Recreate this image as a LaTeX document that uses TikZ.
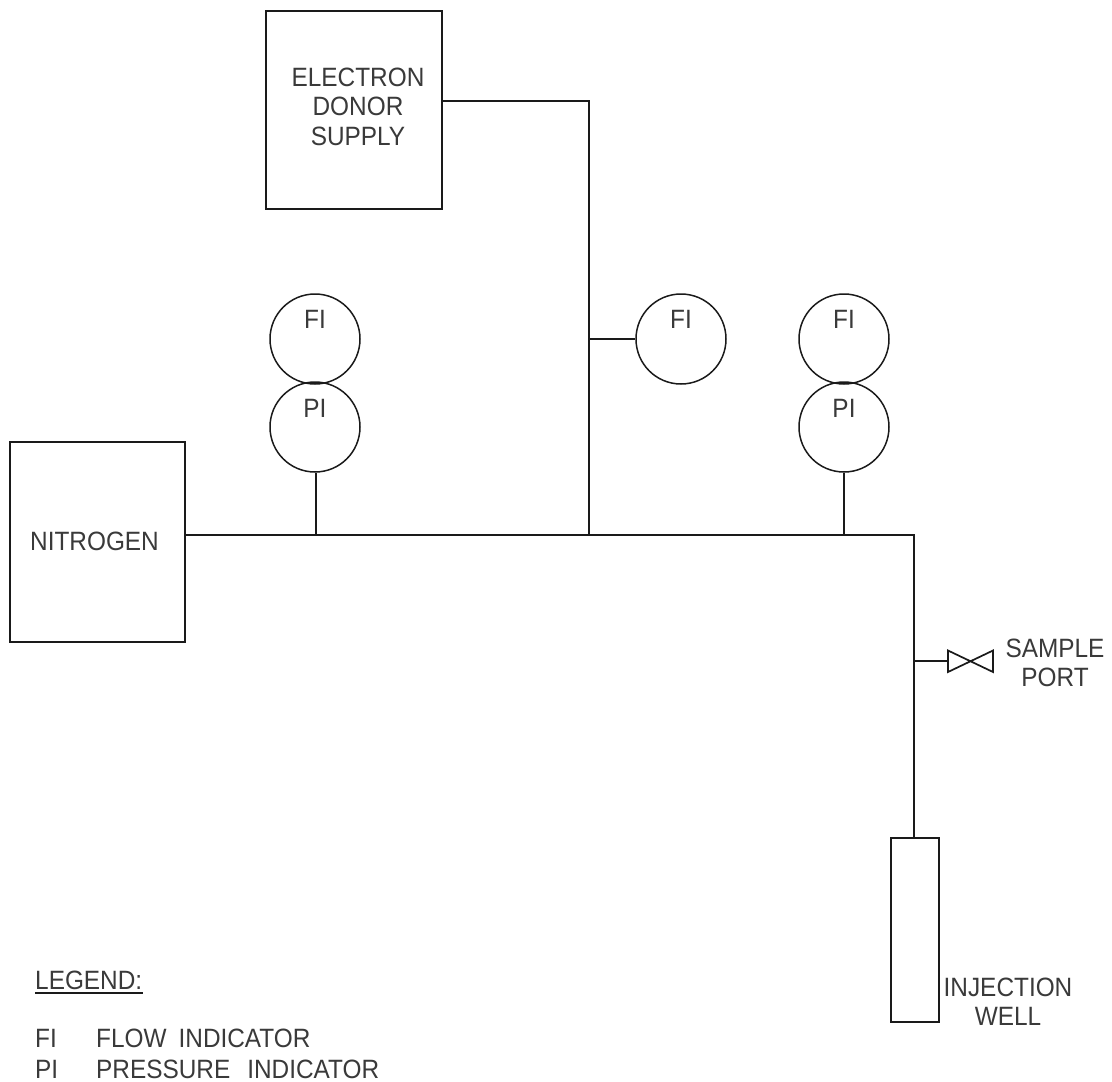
\documentclass[tikz,border=0pt]{standalone}
\usepackage{fontspec}
\setmainfont[FakeStretch=0.92]{Liberation Sans}
\definecolor{ink}{HTML}{1A1A1A}
\definecolor{txt}{HTML}{3A3A3A}
\tikzset{
  pipe/.style={draw=ink,line width=1.7pt},
  unitbox/.style={draw=ink,line width=1.7pt,rectangle,inner sep=0pt,anchor=north west},
  gauge/.style={draw=ink,line width=1.5pt,circle,minimum size=90pt,inner sep=0pt},
  lbl/.style={text=txt,inner sep=0pt,align=center,font=\fontsize{26.5}{29.5}\selectfont},
  leg/.style={lbl,anchor=base west},
}
\begin{document}
\begin{tikzpicture}[x=1pt,y=-1pt]
\useasboundingbox (0,0) rectangle (1112,1082);
\fill[white] (0,0) rectangle (1112,1082);
% equipment
\node[unitbox,minimum width=176pt,minimum height=198pt] (donor) at (265.3,10.3) {};
\node[lbl] (donorlbl) at (358,106.5) {ELECTRON\\DONOR\\SUPPLY};
\node[unitbox,minimum width=175pt,minimum height=200pt] (nitrogen) at (9.3,441.3) {};
\node[lbl] (nitrogenlbl) at (94.5,541.5) {NITROGEN};
\node[unitbox,minimum width=48pt,minimum height=184pt] (well) at (890.3,837.3) {};
\node[lbl] (welllbl) at (1008,1001.5) {INJECTION\\WELL};
% gauges
\node[gauge] (fia) at (315,339) {};
\node[gauge] (pia) at (315,427) {};
\node[gauge] (fib) at (681,339) {};
\node[gauge] (fic) at (844,339) {};
\node[gauge] (pic) at (844,427) {};
\node[lbl,anchor=base] (fiatxt) at (315,328) {FI};
\node[lbl,anchor=base] (piatxt) at (315,417) {PI};
\node[lbl,anchor=base] (fibtxt) at (681,328) {FI};
\node[lbl,anchor=base] (fictxt) at (844,328) {FI};
\node[lbl,anchor=base] (pictxt) at (844,417) {PI};
% junctions
\coordinate (j1) at (316,535);
\coordinate (j2) at (589,535);
\coordinate (j3) at (pic.south |- 0,535);
\coordinate (corner) at (914,535);
\coordinate (bend) at (589,101);
\coordinate (tee) at (589,339);
\coordinate (stee) at (914,661);
\coordinate (vl) at (948,661);
% piping
\draw[pipe] (nitrogen.east |- corner) -- (j1) -- (j2) -- (j3) -- (corner) -- (stee) -- (stee |- well.north);
\draw[pipe] (donor.east |- bend) -- (bend) -- (tee) -- (j2);
\draw[pipe] (tee) -- (fib.west);
\draw[pipe] (j1 |- pia.south) -- (j1);
\draw[pipe] (pic.south) -- (j3);
\draw[pipe] (stee) -- (vl);
% valve
\draw[pipe,line join=miter] (vl) -- (948,650.5) -- (993,672) -- (993,650.5) -- (948,672) -- cycle;
\node[lbl] (portlbl) at (1055,663) {SAMPLE\\PORT};
% legend
\node[leg] (legtitle) at (35,989) {LEGEND:};
\draw[pipe,line width=1.2pt] (legtitle.base west) ++(0,4) -- ++(108,0);
\node[leg] (lfi) at (35,1047) {FI};
\node[leg] (lflow) at (96,1047) {FLOW\hspace{12pt}INDICATOR};
\node[leg] (lpi) at (35,1078) {PI};
\node[leg] (lpress) at (96,1078) {PRESSURE\hspace{17pt}INDICATOR};
\end{tikzpicture}
\end{document}
